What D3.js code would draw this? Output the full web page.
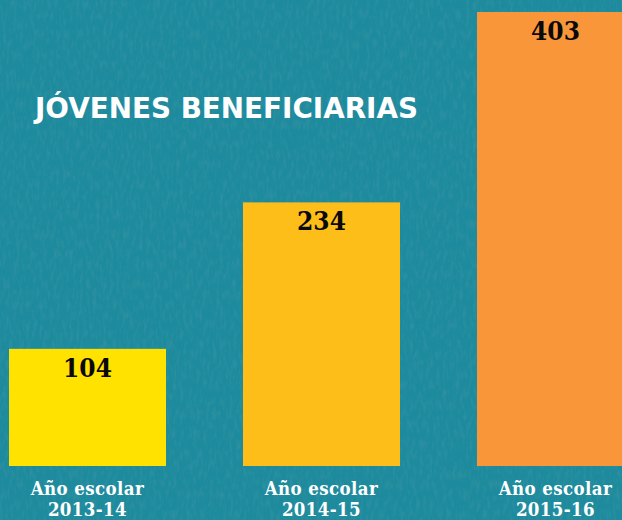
<!DOCTYPE html>
<html><head><meta charset="utf-8">
<script src="https://cdn.jsdelivr.net/npm/d3@7"></script>
<style>html,body{margin:0;padding:0;background:#1b8a9c;overflow:hidden}</style>
</head><body>
<script>
const categories = ["2013-14", "2014-15", "2015-16"];
const categoryPrefix = "Año escolar";
const values = [104, 234, 403];
const colors = ["#FFE200", "#FDBE1A", "#F9963A"];
const title = "JÓVENES BENEFICIARIAS";

const W = 622, H = 520;
const svg = d3.select("body").append("svg").attr("width", W).attr("height", H);
const defs = svg.append("defs");
const f = defs.append("filter").attr("id","tex").attr("x",0).attr("y",0).attr("width","100%").attr("height","100%");
f.append("feTurbulence").attr("type","fractalNoise").attr("baseFrequency","0.3 0.1").attr("numOctaves",4).attr("seed",7).attr("result","n");
f.append("feColorMatrix").attr("in","n").attr("type","matrix")
 .attr("values","0 0 0 0 0.05  0 0 0 0 0.30  0 0 0 0 0.38  0 0 0 -2.2 1.25");

svg.append("rect").attr("width",W).attr("height",H).attr("fill","#1d8b9d");
svg.append("rect").attr("width",W).attr("height",H).attr("filter","url(#tex)").attr("opacity",0.5);

const baseline = 466;
const x = d3.scaleBand().domain(categories).range([9, 634]).paddingInner(77/234).paddingOuter(0);
const y = d3.scaleLinear().domain([0, 403]).range([baseline, 12]);

svg.append("text").attr("x",35).attr("y",118).text(title)
  .attr("font-family","'DejaVu Sans', sans-serif").attr("font-weight",700)
  .attr("font-size",27.8).attr("fill","#fff");

const g = svg.selectAll("g.bar").data(values).join("g");
g.append("rect")
  .attr("x",(d,i)=>x(categories[i])).attr("width",x.bandwidth())
  .attr("y",d=>y(d)).attr("height",d=>baseline-y(d))
  .attr("fill",(d,i)=>colors[i]);
g.append("text")
  .attr("x",(d,i)=>x(categories[i])+x.bandwidth()/2)
  .attr("y",d=>y(d)+28)
  .attr("text-anchor","middle")
  .attr("font-family","'DejaVu Serif Condensed','DejaVu Serif', serif").attr("font-weight","bold")
  .attr("font-size",26).attr("fill","#0a0a0a").text(d=>d);

const lab = svg.selectAll("text.cat").data(categories).join("text").attr("class","cat")
  .attr("x",d=>x(d)+x.bandwidth()/2).attr("text-anchor","middle")
  .attr("font-family","'DejaVu Serif Condensed','DejaVu Serif', serif").attr("font-weight","bold")
  .attr("font-size",18.5).attr("letter-spacing",0.4).attr("fill","#fff");
lab.append("tspan").attr("x",d=>x(d)+x.bandwidth()/2).attr("y",495).text(categoryPrefix);
lab.append("tspan").attr("x",d=>x(d)+x.bandwidth()/2).attr("y",516).text(d=>d);
</script>
</body></html>
